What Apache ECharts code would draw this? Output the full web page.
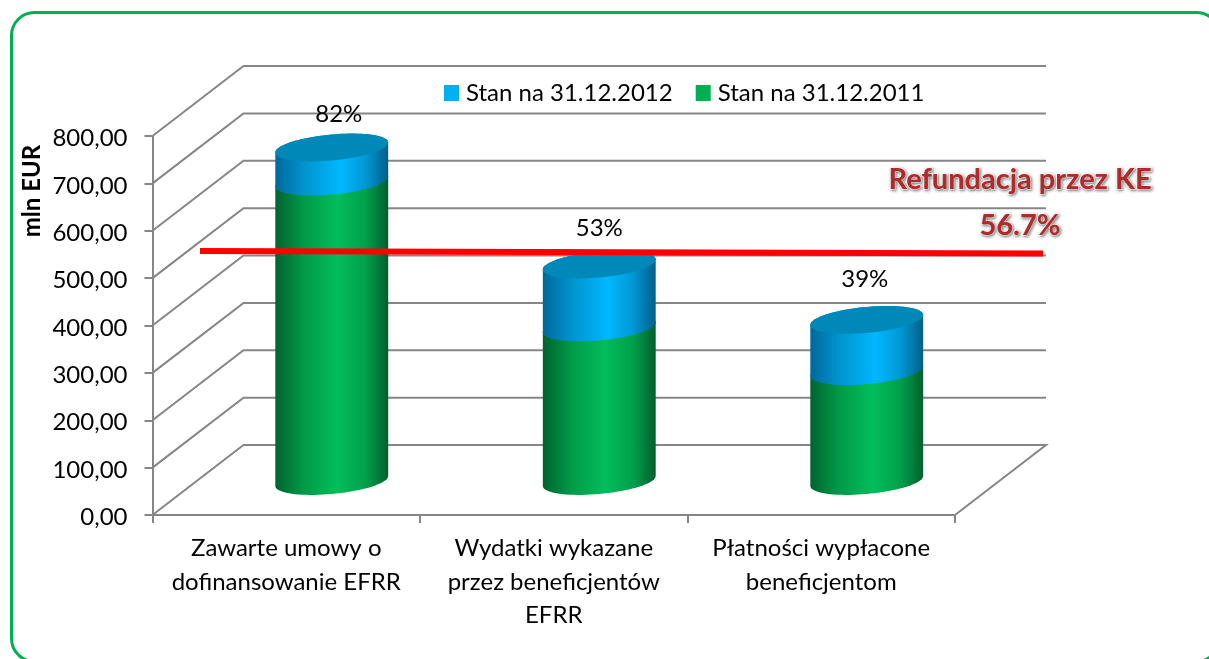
<!DOCTYPE html>
<html>
<head>
<meta charset="utf-8">
<style>
  html, body { margin: 0; padding: 0; background: #fff; }
  #chart { width: 1209px; height: 659px; }
</style>
<script src="https://cdn.jsdelivr.net/npm/echarts@6/dist/echarts.min.js"></script>
</head>
<body>
<div id="chart"></div>
<script>
const categories = [
  'Zawarte umowy o\ndofinansowanie EFRR',
  'Wydatki wykazane\nprzez beneficjentów\nEFRR',
  'Płatności wypłacone\nbeneficjentom'
]
const stan2011 = [632, 324, 232]
const przyrost2012 = [72, 133, 108] // roznica miedzy 2012 a 2011
const procenty = ['82%', '53%', '39%']
const yTicks = [0, 100, 200, 300, 400, 500, 600, 700, 800]
const refundacja = [557, 552] // lewy i prawy koniec czerwonej linii

// udawana glebokosc wykresu 3D
const DEPTH_X = 91
const DEPTH_Y = 70
const SKEW = 5
const RY = 13
const FONT = 'Lato, "Open Sans", sans-serif'
const GREY = '#868686'

const gradient = (stops) => new echarts.graphic.LinearGradient(0, 0, 1, 0, stops)
const greenFill = gradient([
  { offset: 0, color: '#00642F' },
  { offset: 0.25, color: '#009A48' },
  { offset: 0.55, color: '#03BD5B' },
  { offset: 0.8, color: '#00A04B' },
  { offset: 1, color: '#005F2D' }
])
const blueFill = gradient([
  { offset: 0, color: '#00699A' },
  { offset: 0.25, color: '#0093CE' },
  { offset: 0.58, color: '#00B8FF' },
  { offset: 0.8, color: '#0098D4' },
  { offset: 1, color: '#005E88' }
])

// polowa pochylonej elipsy, od lewej do prawej
function arc (cx, cy, rx, lower) {
  const pts = []
  for (let i = 0; i <= 40; i++) {
    const t = Math.PI - i / 40 * Math.PI
    const sin = Math.sin(t) * RY * (lower ? 1 : -1)
    pts.push([cx + Math.cos(t) * rx, cy + sin - Math.cos(t) * SKEW])
  }
  return pts
}

function cylinderPiece (params, api) {
  const band = api.size([1, 0])[0]
  const rx = band * 0.211
  const base = api.coord([api.value(0), api.value(1)])
  const top = api.coord([api.value(0), api.value(2)])
  const cx = base[0] + DEPTH_X / 2
  const y0 = base[1] - DEPTH_Y / 2 + 1
  const y1 = top[1] - DEPTH_Y / 2 + 1
  return { cx, y0, y1, rx }
}

function renderGreen (params, api) {
  const c = cylinderPiece(params, api)
  const pts = arc(c.cx, c.y0, c.rx, true).concat(arc(c.cx, c.y1, c.rx, false).reverse())
  return { type: 'polygon', shape: { points: pts }, style: { fill: greenFill } }
}

function renderBlue (params, api) {
  const c = cylinderPiece(params, api)
  const body = arc(c.cx, c.y0, c.rx, true).concat(arc(c.cx, c.y1, c.rx, false).reverse())
  const cap = arc(c.cx, c.y1, c.rx, true).concat(arc(c.cx, c.y1, c.rx, false).reverse())
  return {
    type: 'group',
    children: [
      { type: 'polygon', shape: { points: body }, style: { fill: blueFill } },
      { type: 'polygon', shape: { points: cap }, style: { fill: '#0088B8' } },
      {
        type: 'text',
        style: {
          text: procenty[params.dataIndex],
          x: c.cx + [7, 0, -2][params.dataIndex],
          y: c.y1 + [-33, -36, -41][params.dataIndex],
          align: 'center',
          verticalAlign: 'middle',
          fill: '#000',
          font: '24px ' + FONT
        }
      }
    ]
  }
}

// linie siatki: sciana boczna i tylna
function renderGrid (params, api) {
  const band = api.size([1, 0])[0]
  const p = api.coord([0, api.value(1)])
  const left = p[0] - band / 2
  const right = left + band * categories.length
  const pts = [[left, p[1]], [left + DEPTH_X, p[1] - DEPTH_Y], [right + DEPTH_X, p[1] - DEPTH_Y]]
  if (api.value(1) === 0) pts.push([right, p[1]])
  return { type: 'polyline', shape: { points: pts }, style: { stroke: GREY, lineWidth: 2, fill: null } }
}

function renderRefund (params, api) {
  const band = api.size([1, 0])[0]
  const a = api.coord([0, refundacja[0]])
  const b = api.coord([categories.length - 1, refundacja[1]])
  return {
    type: 'line',
    shape: { x1: a[0] - band / 2 + 47.5, y1: a[1], x2: b[0] + band / 2 + 88, y2: b[1] },
    style: { stroke: '#FF0000', lineWidth: 6 }
  }
}

const refundText = {
  fill: '#B02A2A',
  stroke: '#fff',
  lineWidth: 2,
  textShadowColor: 'rgba(0,0,0,0.4)',
  textShadowBlur: 3,
  textShadowOffsetX: 1,
  textShadowOffsetY: 1,
  align: 'center',
  verticalAlign: 'middle',
  font: 'bold 29px ' + FONT
}

const myChart = echarts.init(document.getElementById('chart'))
myChart.setOption({
  animation: false,
  legend: {
    left: 439,
    top: 76,
    itemWidth: 15,
    itemHeight: 16,
    itemGap: 23,
    icon: 'rect',
    selectedMode: false,
    data: ['Stan na 31.12.2012', 'Stan na 31.12.2011'],
    textStyle: { fontFamily: FONT, fontSize: 24, color: '#000', padding: [0, 0, 0, 2] }
  },
  grid: { left: 152.5, top: 136, width: 802.5, height: 379 },
  xAxis: {
    type: 'category',
    data: categories,
    axisLine: { lineStyle: { color: GREY, width: 2 } },
    axisTick: { show: true, length: 8, lineStyle: { color: GREY, width: 2 } },
    axisLabel: { fontFamily: FONT, fontSize: 24, color: '#000', lineHeight: 33.5, margin: 17, interval: 0 }
  },
  yAxis: {
    type: 'value',
    min: 0,
    max: 800,
    interval: 100,
    splitLine: { show: false },
    axisLine: { show: true, lineStyle: { color: GREY, width: 2 } },
    axisTick: { show: true, length: 8, lineStyle: { color: GREY, width: 2 } },
    axisLabel: {
      fontFamily: FONT,
      fontSize: 24,
      color: '#000',
      margin: 25,
      verticalAlign: 'top',
      lineHeight: 5,
      formatter: (v) => v.toFixed(2).replace('.', ',')
    }
  },
  graphic: [
    {
      type: 'rect',
      shape: { x: 11.5, y: 12.5, width: 1208, height: 649, r: 23 },
      style: { fill: 'none', stroke: '#00B050', lineWidth: 3 },
      silent: true
    },
    {
      type: 'text',
      x: 32,
      y: 191,
      rotation: Math.PI / 2,
      style: { text: 'mln EUR', font: 'bold 24px ' + FONT, fill: '#000', align: 'center', verticalAlign: 'middle' }
    },
    { type: 'text', x: 1020, y: 180, z: 20, style: Object.assign({ text: 'Refundacja przez KE' }, refundText) },
    { type: 'text', x: 1020, y: 226, z: 20, style: Object.assign({ text: '56.7%' }, refundText) }
  ],
  series: [
    {
      name: 'siatka',
      type: 'custom',
      z: 1,
      silent: true,
      renderItem: renderGrid,
      encode: { x: 0, y: 1 },
      data: yTicks.map((v) => [0, v])
    },
    {
      name: 'Stan na 31.12.2011',
      type: 'custom',
      z: 3,
      itemStyle: { color: '#00B050' },
      renderItem: renderGreen,
      encode: { x: 0, y: [1, 2] },
      data: stan2011.map((v, i) => [i, 0, v])
    },
    {
      name: 'Stan na 31.12.2012',
      type: 'custom',
      z: 4,
      itemStyle: { color: '#00B0F0' },
      renderItem: renderBlue,
      encode: { x: 0, y: [1, 2] },
      data: przyrost2012.map((v, i) => [i, stan2011[i], stan2011[i] + v])
    },
    {
      name: 'refundacja',
      type: 'custom',
      z: 5,
      silent: true,
      renderItem: renderRefund,
      encode: { x: 0, y: 1 },
      data: [[0, refundacja[0]]]
    }
  ]
})
</script>
</body>
</html>
